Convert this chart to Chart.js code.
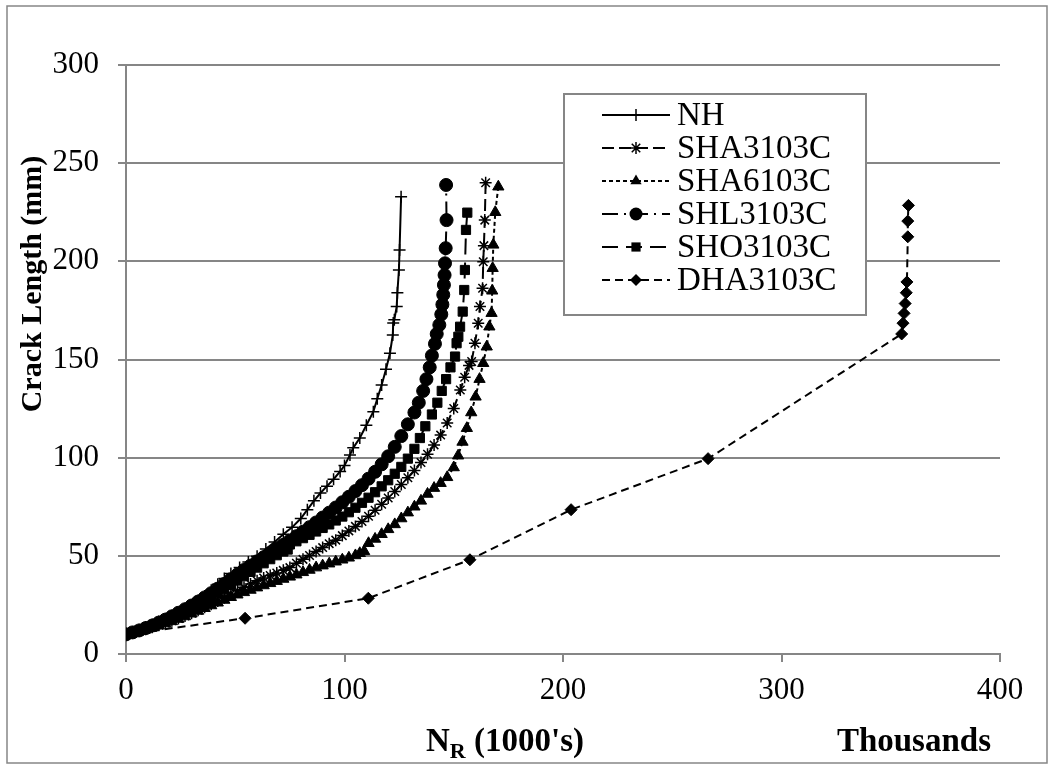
<!DOCTYPE html>
<html><head><meta charset="utf-8">
<script src="https://cdn.jsdelivr.net/npm/chart.js@4.4.0/dist/chart.umd.min.js"></script>
<style>html,body{margin:0;padding:0;background:#fff}canvas{display:block}</style>
</head><body>
<canvas id="c" width="1052" height="768"></canvas>
<script>
// ---- data (N in thousands of cycles, L = crack length in mm) ----
const seriesLabels = ['NH','SHA3103C','SHA6103C','SHL3103C','SHO3103C','DHA3103C'];
const xTickLabels = [0,100,200,300,400];
const yTickLabels = [0,50,100,150,200,250,300];

const nhN = [0,3,6,9,12,15,18,21,24,27,30,33,36,39,42,45,48,52,56,60,64,68,72,76,80,83,86,89,92,95,98,100,102.5,104,107,110,113.2,115,117,119,120.8,122.1,122.3,122.8,123.9,124.2,124.9,125.2,125.9];
const nhL = [10,11.2,12.4,13.8,15,16.5,18,19.5,21.2,23,25,27.2,29.5,32.5,35.5,38.5,41,44,46.8,49.8,53.5,57,61,64.5,69,73.5,78,82,85.5,89,93,96,101.4,105,110,116.5,123.4,130,137,145,153.2,162.5,168.6,170.2,177,184,195.6,205.8,232.9];

const sha3N = [0,3,6,9,12,15,18,21,24,27,30,33,36,39,42,45,48,51,54,57,60,63,66,69,72,75,78,81,84,87,90,93,96,99,102,105,108,111,114,117,120,123,126,129,132,135,138,141,144,147,150,153,155,157,158.2,159.7,161.2,162,163.2,163.5,163.8,164.2,164.6];
const sha3L = [10,10.8,11.7,12.6,13.6,14.6,15.7,16.9,18.1,19.4,20.8,22.3,23.8,25.4,27,28.7,30.5,32.2,34,35.7,37.3,38.7,40,41.3,42.6,44,46.2,48.2,50.2,52.2,54.2,56.2,58,60.3,62.7,65,67.5,70.2,73.2,76.3,79.5,82.8,86.3,89.8,93.5,97.5,101.7,106.5,111.5,117.7,125,134.5,141,147,149,158.3,168.5,177,186.3,199.8,208,221,240];

const sha6N = [0,3,6,9,12,15,18,21,24,27,30,33,36,39,42,45,48,51,54,57,60,63,66,69,72,75,78,81,84,87,90,93,96,99,102,105,107,109,111,114,117,120,123,126,129,132,135,138,141,144,147,150,152,154,156,158,160,161.8,163.5,165.1,166.3,167.3,167.6,167.8,168.1,169,170.4];
const sha6L = [10,10.8,11.6,12.5,13.4,14.4,15.5,16.6,17.8,19.1,20.5,21.9,23.3,24.7,26.1,27.5,28.9,30.2,31.4,32.6,33.8,34.9,36,37.1,38.2,39.3,40.4,41.6,42.8,44,45,46,47,48,49,50.2,51.3,52.3,56.4,58.6,61,63.5,66,69,72,75,78,81.5,84.5,87,90,95,101,108,115,123,131,140,148.1,156.5,166.7,173.6,185,196.5,208.4,225,238];

const shlN = [0,3,6,9,12,15,18,21,24,27,30,33,36,39,42,45,48,51,54,57,60,63,66,69,72,75,78,81,84,87,90,93,96,99,102,105,108,111,114,117,120,123,126,129,132,134,136,137.5,139,140,141.4,142.2,143.4,144.3,144.8,145.2,145.5,145.8,146,146.3,146.7,146.5];
const shlL = [10,11,12,13.2,14.5,16,17.5,19.2,21,22.8,24.7,26.7,28.8,31,33.3,35.7,38.1,40.5,42.8,45,47.2,49.3,51.4,53.5,55.6,57.8,60,62.3,64.6,67,69.5,72,74.6,77.3,80.1,83,86,89.3,92.8,96.6,100.7,105.5,111,117,123,128,134,140,146,152,158,163,167.6,173,178,183,188,193,199,206.7,221,238.9];

const shoN = [0,3,6,9,12,15,18,21,24,27,30,33,36,39,42,45,48,51,54,57,60,63,66,69,72,74,75,78,81,84,87,90,93,96,99,102,105,108,111,114,117,120,123,126,129,132,134.5,137,140,142.5,144.5,146.5,148.5,150.6,151.3,152.1,152.9,154.1,154.8,155.1,155.6,156.2];
const shoL = [10,10.9,11.9,12.9,14,15.3,16.7,18.2,19.8,21.5,23.3,25.1,27,29,31,33.1,35.2,37.4,39.6,41.8,44,46.2,48.3,50.3,52.2,53.2,55.8,57.4,59,60.7,62.4,64.2,66,68,70,72.2,74.5,77,79.6,82.4,85.4,88.5,91.8,95.3,99.5,104.5,110,116,122,128,134,140,146,151.5,158.3,161.6,166.7,174.4,185.4,195.6,216,224.8];

const dhaN = [0,54.5,110.9,157.4,203.7,266.4,355,355.6,356.1,356.6,357.1,357.4,357.8,357.8,358.1];
const dhaL = [10,18.2,28.4,48,73.5,99.5,163,168.5,173.5,178.5,184,189.5,212.5,220.5,228.5];

// ---- styling ----
const GREY = '#868686';
const SERIF = "'Liberation Serif','Times New Roman',serif";
const styles = [
  {dash:[], point:'cross', r:6, pbw:1.5},
  {dash:[12,5], point:'star', r:6, pbw:1.5},
  {dash:[4,3], point:'triangle', r:6.5, pbw:1},
  {dash:[16,6,2,6], point:'circle', r:6.5, pbw:1},
  {dash:[16,8], point:'rect', r:6.5, pbw:1},
  {dash:[8,5], point:'rectRot', r:6, pbw:1}
];
const seriesN = [nhN, sha3N, sha6N, shlN, shoN, dhaN];
const seriesL = [nhL, sha3L, sha6L, shlL, shoL, dhaL];

const datasets = seriesLabels.map((lab, i) => ({
  label: lab,
  data: seriesN[i].map((n, k) => ({x: n, y: seriesL[i][k]})),
  showLine: true,
  borderColor: '#000',
  backgroundColor: '#000',
  borderWidth: 2,
  borderDash: styles[i].dash,
  pointStyle: styles[i].point,
  pointRadius: styles[i].r,
  pointBorderWidth: styles[i].pbw,
  pointBorderColor: '#000',
  pointBackgroundColor: '#000',
  tension: 0
}));

function drawMarker(ctx, style, r, x, y, bw) {
  ctx.save();
  ctx.setLineDash([]);
  ctx.fillStyle = '#000'; ctx.strokeStyle = '#000'; ctx.lineWidth = bw;
  ctx.beginPath();
  if (style === 'circle') { ctx.arc(x, y, r, 0, Math.PI*2); ctx.fill(); }
  else if (style === 'rect') { const s = r/Math.SQRT2; ctx.rect(x-s, y-s, 2*s, 2*s); ctx.fill(); }
  else if (style === 'rectRot') { ctx.moveTo(x, y-r); ctx.lineTo(x+r, y); ctx.lineTo(x, y+r); ctx.lineTo(x-r, y); ctx.closePath(); ctx.fill(); }
  else if (style === 'triangle') {
    let a = 0;
    ctx.moveTo(x + Math.sin(a)*r, y - Math.cos(a)*r);
    a += 2*Math.PI/3; ctx.lineTo(x + Math.sin(a)*r, y - Math.cos(a)*r);
    a += 2*Math.PI/3; ctx.lineTo(x + Math.sin(a)*r, y - Math.cos(a)*r);
    ctx.closePath(); ctx.fill();
  }
  else if (style === 'cross') { ctx.moveTo(x, y-r); ctx.lineTo(x, y+r); ctx.moveTo(x-r, y); ctx.lineTo(x+r, y); ctx.stroke(); }
  else if (style === 'star') {
    ctx.moveTo(x, y-r); ctx.lineTo(x, y+r); ctx.moveTo(x-r, y); ctx.lineTo(x+r, y);
    const d = r*Math.SQRT1_2;
    ctx.moveTo(x-d, y-d); ctx.lineTo(x+d, y+d); ctx.moveTo(x-d, y+d); ctx.lineTo(x+d, y-d);
    ctx.stroke();
  }
  ctx.restore();
}

const decor = {
  id: 'decor',
  afterDraw(chart) {
    const ctx = chart.ctx;
    ctx.save();
    // outer frame
    ctx.strokeStyle = GREY; ctx.lineWidth = 1.5; ctx.setLineDash([]);
    ctx.strokeRect(7, 6, 1040, 757);
    // legend box
    const lx = 564, ly = 94, lw = 302, lh = 221;
    ctx.fillStyle = '#fff'; ctx.fillRect(lx, ly, lw, lh);
    ctx.lineWidth = 2; ctx.strokeStyle = GREY; ctx.strokeRect(lx, ly, lw, lh);
    ctx.font = '33px ' + SERIF; ctx.textBaseline = 'middle'; ctx.textAlign = 'left';
    seriesLabels.forEach((lab, i) => {
      const y = 115 + i*33;
      ctx.save();
      ctx.strokeStyle = '#000'; ctx.lineWidth = 2; ctx.setLineDash(styles[i].dash);
      ctx.beginPath(); ctx.moveTo(602, y); ctx.lineTo(670, y); ctx.stroke();
      ctx.restore();
      drawMarker(ctx, styles[i].point, styles[i].r, 636, y, styles[i].pbw);
      ctx.fillStyle = '#000';
      ctx.fillText(lab, 677, y + 1);
    });
    // y axis title
    ctx.save();
    ctx.translate(33, 284); ctx.rotate(-Math.PI/2);
    ctx.font = 'bold 30px ' + SERIF; ctx.textAlign = 'center'; ctx.textBaseline = 'middle';
    ctx.fillStyle = '#000';
    ctx.fillText('Crack Length (mm)', 0, 0);
    ctx.restore();
    // x axis title with subscript
    ctx.fillStyle = '#000'; ctx.textBaseline = 'alphabetic'; ctx.textAlign = 'left';
    const big = 'bold 33px ' + SERIF, small = 'bold 22px ' + SERIF;
    ctx.font = big; const wN = ctx.measureText('N').width; const wRest = ctx.measureText(" (1000's)").width;
    ctx.font = small; const wR = ctx.measureText('R').width;
    const total = wN + wR + wRest;
    let x0 = 505 - total/2; const base = 751;
    ctx.font = big; ctx.fillText('N', x0, base);
    ctx.font = small; ctx.fillText('R', x0 + wN, base + 7);
    ctx.font = big; ctx.fillText(" (1000's)", x0 + wN + wR, base);
    ctx.textAlign = 'right';
    ctx.fillText('Thousands', 991, base);
    ctx.restore();
  }
};

new Chart(document.getElementById('c'), {
  type: 'scatter',
  data: { datasets },
  options: {
    responsive: false,
    animation: false,
    devicePixelRatio: 1,
    layout: { padding: { left: 0, top: 65, right: 52, bottom: 0 } },
    plugins: { legend: { display: false }, title: { display: false }, tooltip: { enabled: false } },
    scales: {
      x: {
        type: 'linear', min: 0, max: 400,
        afterBuildTicks(s) { s.ticks = xTickLabels.map(v => ({value: v})); },
        afterFit(s) { s.height = 114; },
        grid: { drawOnChartArea: false, drawTicks: true, tickLength: 8, color: GREY, lineWidth: 2 },
        border: { display: true, color: GREY, width: 2 },
        ticks: { color: '#000', padding: 10, font: { family: SERIF, size: 31 }, maxRotation: 0 }
      },
      y: {
        type: 'linear', min: 0, max: 300,
        afterBuildTicks(s) { s.ticks = yTickLabels.map(v => ({value: v})); },
        afterFit(s) { s.width = 126; },
        grid: { color: GREY, lineWidth: 2, tickLength: 8 },
        border: { display: true, color: GREY, width: 2 },
        ticks: { color: '#000', padding: 19, font: { family: SERIF, size: 31 } }
      }
    }
  },
  plugins: [decor]
});
</script>
</body></html>
